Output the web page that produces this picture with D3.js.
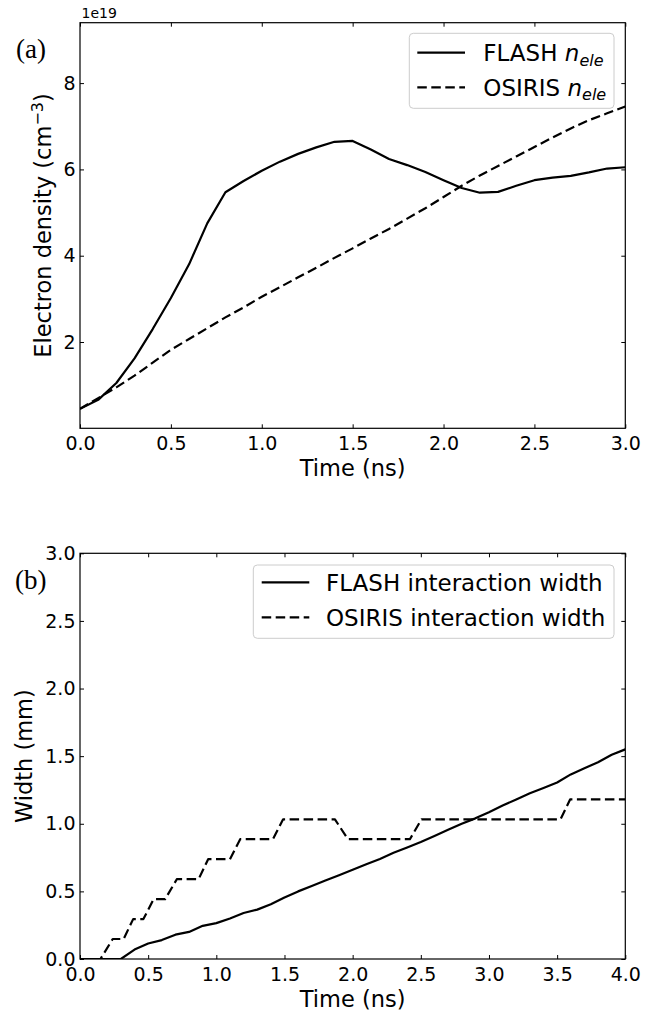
<!DOCTYPE html>
<html lang="en">
<head>
<meta charset="UTF-8">
<title>Electron density and interaction width</title>
<script src="https://d3js.org/d3.v7.min.js"></script>
<style>
  body { margin: 0; background: #fff; }
  svg text { fill: #000; }
</style>
</head>
<body>
<script>
// ---- panel (a) data: electron density, units of 1e19 cm^-3
var timeA = [0.0, 0.1, 0.2, 0.3, 0.4, 0.5, 0.6, 0.7, 0.8, 0.9, 1.0,
             1.1, 1.2, 1.3, 1.4, 1.5, 1.6, 1.7, 1.8, 1.9, 2.0,
             2.1, 2.2, 2.3, 2.4, 2.5, 2.6, 2.7, 2.8, 2.9, 3.0];
var flashDensity = [0.45, 0.66, 1.05, 1.62, 2.30, 3.02, 3.80, 4.75, 5.47, 5.73, 5.97,
                    6.18, 6.36, 6.51, 6.64, 6.66, 6.46, 6.24, 6.10, 5.94, 5.75,
                    5.57, 5.46, 5.48, 5.62, 5.75, 5.81, 5.85, 5.93, 6.02, 6.05];
var osirisDensity = [0.45, 0.70, 0.95, 1.22, 1.52, 1.82, 2.07, 2.32, 2.57, 2.80, 3.05,
                     3.27, 3.50, 3.72, 3.95, 4.17, 4.40, 4.62, 4.86, 5.10, 5.36,
                     5.62, 5.86, 6.08, 6.30, 6.52, 6.74, 6.95, 7.14, 7.30, 7.46];

// ---- panel (b) data: interaction width, mm
var timeB = [0.0, 0.1, 0.2, 0.3, 0.4, 0.5, 0.6, 0.7, 0.8, 0.9, 1.0,
             1.1, 1.2, 1.3, 1.4, 1.5, 1.6, 1.7, 1.8, 1.9, 2.0,
             2.1, 2.2, 2.3, 2.4, 2.5, 2.6, 2.7, 2.8, 2.9, 3.0,
             3.1, 3.2, 3.3, 3.4, 3.5, 3.6, 3.7, 3.8, 3.9, 4.0];
var flashWidth = [0, 0, 0, 0, 0.07, 0.115, 0.14, 0.18, 0.20, 0.245, 0.265,
                  0.30, 0.34, 0.365, 0.405, 0.455, 0.50, 0.54, 0.58, 0.62, 0.66,
                  0.70, 0.74, 0.785, 0.825, 0.865, 0.91, 0.955, 1.0, 1.04, 1.085,
                  1.135, 1.18, 1.225, 1.265, 1.305, 1.365, 1.41, 1.455, 1.51, 1.55];
var osirisTime = [0, 0.15, 0.24, 0.32, 0.39, 0.465, 0.54, 0.625, 0.71, 0.87, 0.94,
                  1.10, 1.175, 1.415, 1.49, 1.87, 1.965, 2.42, 2.505, 3.525, 3.595, 4.0];
var osirisWidth = [0, 0, 0.148, 0.148, 0.295, 0.295, 0.443, 0.443, 0.59, 0.59, 0.738,
                   0.738, 0.886, 0.886, 1.033, 1.033, 0.886, 0.886, 1.033, 1.033, 1.18, 1.18];

// ---- ticks
var xTicksA = [0, 0.5, 1.0, 1.5, 2.0, 2.5, 3.0];
var yTicksA = [2, 4, 6, 8];
var xTicksB = [0, 0.5, 1.0, 1.5, 2.0, 2.5, 3.0, 3.5, 4.0];
var yTicksB = [0, 0.5, 1.0, 1.5, 2.0, 2.5, 3.0];

var SANS = "DejaVu Sans, sans-serif";
var SERIF = "Liberation Serif, Times New Roman, serif";

var W = 657, H = 1014;
var svg = d3.select("body").append("svg")
    .attr("width", W)
    .attr("height", H)
    .style("font-family", SANS);

function drawPanel(p) {
    var x = d3.scaleLinear().domain(p.xDomain).range([p.left, p.right]);
    var y = d3.scaleLinear().domain(p.yDomain).range([p.bottom, p.top]);
    var g = svg.append("g");

    g.append("clipPath").attr("id", p.id + "clip")
      .append("rect")
        .attr("x", p.left).attr("y", p.top - 1)
        .attr("width", p.right - p.left).attr("height", p.bottom - p.top + 1);

    // lines
    p.series.forEach(function (s) {
        var pts = s.t.map(function (t, i) { return [t, s.v[i]]; });
        g.append("path")
            .attr("clip-path", "url(#" + p.id + "clip)")
            .attr("d", d3.line().x(function (d) { return x(d[0]); }).y(function (d) { return y(d[1]); })(pts))
            .attr("fill", "none")
            .attr("stroke", "#000")
            .attr("stroke-width", 2.2)
            .attr("stroke-linejoin", "round")
            .attr("stroke-dasharray", s.dash ? "9.5,4.5" : null);
    });

    // axes, ticks pointing inward on all sides
    var ax = [
        [d3.axisBottom(x).tickValues(p.xTicks).tickFormat(d3.format(".1f")), "translate(0," + p.bottom + ")"],
        [d3.axisLeft(y).tickValues(p.yTicks).tickFormat(p.yFormat), "translate(" + p.left + ",0)"],
        [d3.axisTop(x).tickValues(p.xTicks).tickFormat(""), "translate(0," + p.top + ")"],
        [d3.axisRight(y).tickValues(p.yTicks).tickFormat(""), "translate(" + p.right + ",0)"]
    ];
    ax.forEach(function (a, i) {
        var ag = g.append("g").attr("transform", a[1])
            .call(a[0].tickSizeInner(-4).tickSizeOuter(0).tickPadding(i == 0 ? 8.5 : 4.5));
        ag.attr("font-family", null).attr("font-size", null);
        ag.select(".domain").remove();
        ag.selectAll("line").attr("stroke", "#000").attr("stroke-width", 1);
        ag.selectAll("text").style("font-size", "19px").style("font-family", SANS).attr("fill", "#000");
    });

    g.append("rect")
        .attr("x", p.left).attr("y", p.top)
        .attr("width", p.right - p.left).attr("height", p.bottom - p.top)
        .attr("fill", "none").attr("stroke", "#000").attr("stroke-width", 1.2);

    // axis labels
    g.append("text")
        .attr("x", (p.left + p.right) / 2).attr("y", p.bottom + 48)
        .attr("text-anchor", "middle").style("font-size", "22.5px")
        .text("Time (ns)");

    var yl = g.append("text")
        .attr("transform", "translate(" + p.ylabelX + "," + (p.top + p.bottom) / 2 + ") rotate(-90)")
        .attr("text-anchor", "middle").style("font-size", "22.5px");
    p.ylabel(yl);

    // panel tag, serif like the reference
    g.append("text")
        .attr("x", p.tagX).attr("y", p.tagY)
        .style("font-family", SERIF)
        .style("font-size", "27px")
        .text(p.tag);

    // legend
    var L = p.legend;
    g.append("rect")
        .attr("x", L.x).attr("y", L.y).attr("width", L.w).attr("height", L.h)
        .attr("rx", 4).attr("fill", "#fff").attr("fill-opacity", 0.8)
        .attr("stroke", "#cccccc").attr("stroke-width", 1);
    p.series.forEach(function (s, i) {
        var ry = L.rows[i];
        g.append("line")
            .attr("x1", L.lineX[0]).attr("x2", L.lineX[1])
            .attr("y1", ry).attr("y2", ry)
            .attr("stroke", "#000").attr("stroke-width", 2.2)
            .attr("stroke-dasharray", s.dash ? "9.5,4.5" : null);
        var t = g.append("text").attr("x", L.textX).attr("y", ry + 8.3).style("font-size", "23px");
        s.label(t);
    });
}

function nele(name) {
    return function (t) {
        t.append("tspan").text(name + " ");
        t.append("tspan").style("font-style", "italic").text("n");
        t.append("tspan").style("font-style", "italic").style("font-size", "16px").attr("dy", 4.5).text("ele");
    };
}

drawPanel({
    id: "a", left: 80, right: 625.3, top: 22.7, bottom: 428.3,
    xDomain: [0, 3], yDomain: [0, 9.4],
    xTicks: xTicksA, yTicks: yTicksA, yFormat: d3.format("d"),
    ylabelX: 51,
    ylabel: function (t) {
        t.append("tspan").text("Electron density (cm");
        t.append("tspan").style("font-size", "16px").attr("dy", -8).text("\u22123");
        t.append("tspan").attr("dy", 8).text(")");
    },
    tag: "(a)", tagX: 16, tagY: 58,
    series: [
        { t: timeA, v: flashDensity, dash: false, label: nele("FLASH") },
        { t: timeA, v: osirisDensity, dash: true, label: nele("OSIRIS") }
    ],
    legend: { x: 409.3, y: 33.3, w: 204.7, h: 75, rows: [52.7, 87.3], lineX: [417.3, 465], textX: 483.3 }
});

drawPanel({
    id: "b", left: 80, right: 625.3, top: 553.3, bottom: 959,
    xDomain: [0, 4], yDomain: [0, 3],
    xTicks: xTicksB, yTicks: yTicksB, yFormat: d3.format(".1f"),
    ylabelX: 32,
    ylabel: function (t) { t.text("Width (mm)"); },
    tag: "(b)", tagX: 15, tagY: 589,
    series: [
        { t: timeB, v: flashWidth, dash: false, label: function (t) { t.text("FLASH interaction width"); } },
        { t: osirisTime, v: osirisWidth, dash: true, label: function (t) { t.text("OSIRIS interaction width"); } }
    ],
    legend: { x: 253.3, y: 565, w: 360.7, h: 73.3, rows: [582.3, 617.3], lineX: [261.7, 309.3], textX: 326 }
});

// offset text of the top panel
svg.append("text")
    .attr("x", 81.5).attr("y", 18)
    .style("font-size", "14px")
    .text("1e19");
</script>
</body>
</html>
